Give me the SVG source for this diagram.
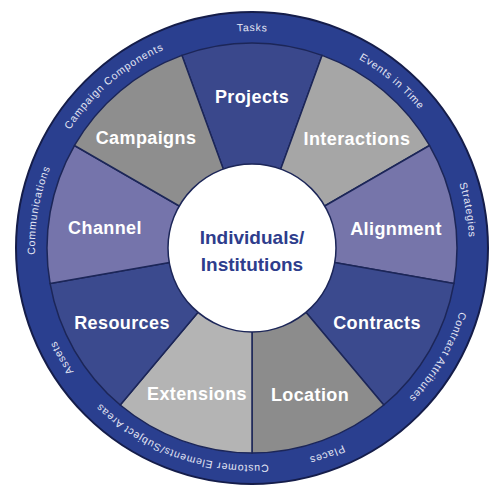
<svg xmlns="http://www.w3.org/2000/svg" xmlns:xlink="http://www.w3.org/1999/xlink" width="500" height="500" viewBox="0 0 500 500">
<style>
.wedge{stroke:#1c2658;stroke-width:1.5;stroke-linejoin:round}
.lbl{font-family:"Liberation Sans",Arial,sans-serif;font-weight:bold;font-size:18px;fill:#ffffff;text-anchor:middle;letter-spacing:0.4px}
.ring{font-family:"Liberation Sans",Arial,sans-serif;font-size:10.5px;fill:#e4e6f4;letter-spacing:0.8px;text-anchor:middle}
.ctr{font-family:"Liberation Sans",Arial,sans-serif;font-weight:bold;font-size:19px;fill:#2e3d8c;text-anchor:middle}
</style>
<defs>
<path id="w" d="M252,248 L181.89,55.36 A205,205 0 0,1 322.11,55.36 Z"/>
<path id="ringpath" fill="none" d="M252,31 A217,217 0 1,1 252,465 A217,217 0 1,1 252,31 A217,217 0 1,1 252,465 A217,217 0 1,1 252,31"/>
</defs>
<rect width="500" height="500" fill="#ffffff"/>
<g id="band">
<circle cx="252" cy="248" r="236" fill="#2a3f8f" stroke="#151d4a" stroke-width="2"/>
</g>
<g id="projects">
<use xlink:href="#w" class="wedge" fill="#3a488c"/>
<text class="lbl" x="252" y="103">Projects</text>
<text class="ring"><textPath xlink:href="#ringpath" startOffset="1363.45">Tasks</textPath></text>
</g>
<g id="interactions">
<use xlink:href="#w" class="wedge" fill="#a6a6a6" transform="rotate(40 252 248)"/>
<text class="lbl" x="357" y="145">Interactions</text>
<text class="ring"><textPath xlink:href="#ringpath" startOffset="151.5">Events in Time</textPath></text>
</g>
<g id="alignment">
<use xlink:href="#w" class="wedge" fill="#7675aa" transform="rotate(80 252 248)"/>
<text class="lbl" x="396" y="235">Alignment</text>
<text class="ring"><textPath xlink:href="#ringpath" startOffset="303">Strategies</textPath></text>
</g>
<g id="contracts">
<use xlink:href="#w" class="wedge" fill="#3b4a8e" transform="rotate(120 252 248)"/>
<text class="lbl" x="377" y="329">Contracts</text>
<text class="ring"><textPath xlink:href="#ringpath" startOffset="456">Contract Attributes</textPath></text>
</g>
<g id="location">
<use xlink:href="#w" class="wedge" fill="#8c8c8c" transform="rotate(160 252 248)"/>
<text class="lbl" x="310" y="401">Location</text>
<text class="ring"><textPath xlink:href="#ringpath" startOffset="606">Places</textPath></text>
</g>
<g id="extensions">
<use xlink:href="#w" class="wedge" fill="#b4b4b4" transform="rotate(200 252 248)"/>
<text class="lbl" x="197" y="400">Extensions</text>
<text class="ring"><textPath xlink:href="#ringpath" startOffset="757.5">Customer Elements/Subject Areas</textPath></text>
</g>
<g id="resources">
<use xlink:href="#w" class="wedge" fill="#3b4a8e" transform="rotate(240 252 248)"/>
<text class="lbl" x="122" y="329">Resources</text>
<text class="ring"><textPath xlink:href="#ringpath" startOffset="908.9">Assets</textPath></text>
</g>
<g id="channel">
<use xlink:href="#w" class="wedge" fill="#7574ab" transform="rotate(280 252 248)"/>
<text class="lbl" x="105" y="234">Channel</text>
<text class="ring"><textPath xlink:href="#ringpath" startOffset="1060.4">Communications</textPath></text>
</g>
<g id="campaigns">
<use xlink:href="#w" class="wedge" fill="#8e8e8e" transform="rotate(320 252 248)"/>
<text class="lbl" x="146" y="144">Campaigns</text>
<text class="ring"><textPath xlink:href="#ringpath" startOffset="1210">Campaign Components</textPath></text>
</g>
<g id="center">
<circle cx="252" cy="248" r="84" fill="#ffffff" stroke="#1c2658" stroke-width="1.5"/>
<text class="ctr" x="252" y="244">Individuals/</text>
<text class="ctr" x="252" y="271">Institutions</text>
</g>
<g id="connectors"/>
</svg>
